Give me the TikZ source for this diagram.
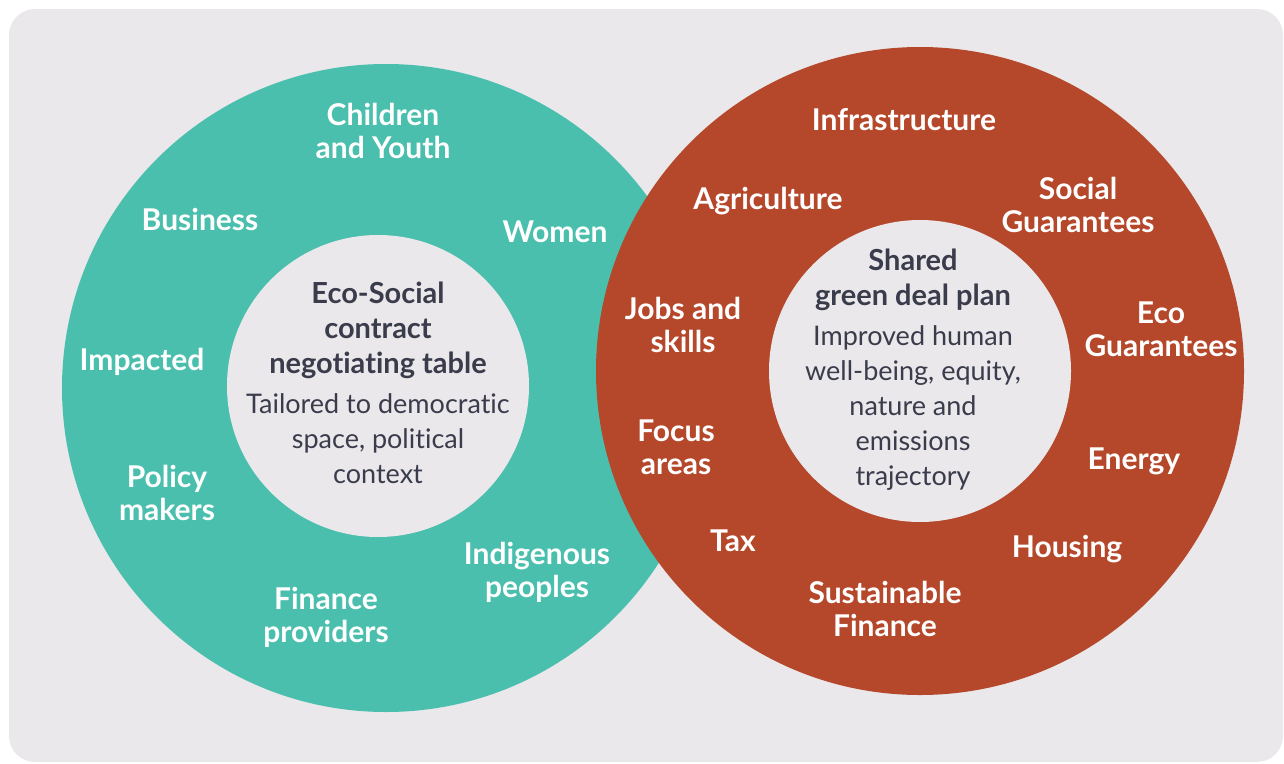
\documentclass[tikz,border=0pt]{standalone}
\usepackage{fontspec}
\setmainfont{Lato}[Ligatures=NoCommon]
\definecolor{ringteal}{HTML}{4BBFAD}
\definecolor{ringred}{HTML}{B5472A}
\definecolor{panelgray}{HTML}{EAE8EB}
\definecolor{inktext}{HTML}{3A3C4C}
\newcommand{\hd}[1]{{\fontsize{29}{35}\selectfont\bfseries #1}}
\begin{document}
\begin{tikzpicture}[x=1pt,y=-1pt,
    ring/.style={text=white,font=\fontsize{30}{33}\selectfont\bfseries,align=center,inner sep=0pt},
    core/.style={text=inktext,font=\fontsize{27}{35}\selectfont,align=center,inner sep=0pt}]
    \useasboundingbox (0,0) rectangle (1284,763);

    % panel and the two rings
    \fill [panelgray,rounded corners=26pt] (9,9) rectangle (1283,762);
    \coordinate (lc) at (386,388);
    \coordinate (rc) at (920,371);
    \fill [ringteal] (lc) circle [radius=324pt];
    \fill [ringred]  (rc) circle [radius=324pt];
    \fill [panelgray] (378,386) circle [radius=151pt];
    \fill [panelgray] (rc) circle [radius=151pt];

    % stakeholders
    \node [ring] (chy) at (383,131) {Children\\and Youth};
    \node [ring] (bus) at (200,219) {Business};
    \node [ring] (wom) at (555,232) {Women};
    \node [ring] (imp) at (142,362) {Impacted};
    \node [ring] (pol) at (167,493) {Policy\\makers};
    \node [ring] (fin) at (326,617) {Finance\\providers};
    \node [ring] (ind) at (537,572) {Indigenous\\peoples};
    \node [core] (table) at (378,383) {\hd{Eco-Social}\\\hd{contract}\\\hd{negotiating table}\\[5pt]
        Tailored to democratic\\space, political\\context};

    % focus areas
    \node [ring] (infra)   at (904,120) {Infrastructure};
    \node [ring] (agri)    at (768,201) {Agriculture};
    \node [ring] (socg)    at (1078,205) {Social\\Guarantees};
    \node [ring] (jobs)    at (683,325) {Jobs and\\skills};
    \node [ring] (ecog)    at (1161,329) {Eco\\Guarantees};
    \node [ring] (focus)   at (676,447) {Focus\\areas};
    \node [ring] (energy)  at (1134,461) {Energy};
    \node [ring] (tax)     at (733,541) {Tax};
    \node [ring] (housing) at (1067,549) {Housing};
    \node [ring] (susfin)  at (885,609) {Sustainable\\Finance};
    \node [core] (plan) at (913,370) {\hd{Shared}\\\hd{green deal plan}\\[5pt]
        Improved human\\well-being, equity,\\nature and\\emissions\\trajectory};
\end{tikzpicture}
\end{document}
